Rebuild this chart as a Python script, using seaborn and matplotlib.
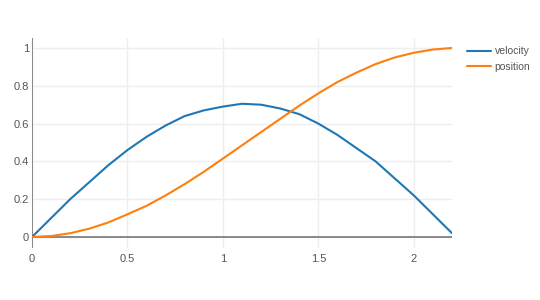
import matplotlib
matplotlib.use("Agg")
import matplotlib.pyplot as plt
import seaborn as sns
import pandas as pd

t = [0.0, 0.1, 0.2, 0.3, 0.4, 0.5, 0.6, 0.7, 0.8, 0.9, 1.0, 1.1,
     1.2, 1.3, 1.4, 1.5, 1.6, 1.7, 1.8, 1.9, 2.0, 2.1, 2.2]
velocity = [0.00, 0.10, 0.20, 0.29, 0.38, 0.46, 0.53, 0.59, 0.64, 0.67, 0.69, 0.705,
            0.70, 0.68, 0.65, 0.60, 0.54, 0.47, 0.40, 0.31, 0.22, 0.12, 0.02]
position = [0.000, 0.005, 0.020, 0.044, 0.077, 0.120, 0.165, 0.220, 0.280, 0.345, 0.415, 0.485,
            0.555, 0.625, 0.695, 0.760, 0.820, 0.870, 0.915, 0.950, 0.975, 0.992, 1.000]
series_names = ["velocity", "position"]
x_ticks = [0, 0.5, 1, 1.5, 2]
x_tick_labels = ["0", "0.5", "1", "1.5", "2"]
y_ticks = [0, 0.2, 0.4, 0.6, 0.8, 1]
y_tick_labels = ["0", "0.2", "0.4", "0.6", "0.8", "1"]

df = pd.concat([
    pd.DataFrame({"t": t, "value": velocity, "series": series_names[0]}),
    pd.DataFrame({"t": t, "value": position, "series": series_names[1]}),
])

sns.set_theme(style="white")
plt.rcParams["font.family"] = ["Liberation Sans", "DejaVu Sans"]

fig = plt.figure(figsize=(5.4, 3.0), dpi=100)
ax = fig.add_axes([32 / 540, 1 - 247.5 / 300, (452 - 32) / 540, (247.5 - 37.5) / 300])

sns.lineplot(data=df, x="t", y="value", hue="series",
             palette=["#1f77b4", "#ff7f0e"], linewidth=1.5, ax=ax, zorder=3)

ax.set_xlim(0, 2.2)
ax.set_ylim(-0.0556, 1.0556)
ax.set_xticks(x_ticks)
ax.set_xticklabels(x_tick_labels)
ax.set_yticks(y_ticks)
ax.set_yticklabels(y_tick_labels)
ax.set_xlabel("")
ax.set_ylabel("")
ax.grid(True, color="#eeeeee", linewidth=1)
ax.set_axisbelow(True)
for s in ax.spines.values():
    s.set_visible(False)
ax.axhline(0, color="#777777", linewidth=1.2, zorder=2)
ax.axvline(0, color="#777777", linewidth=1.2, zorder=2)
ax.tick_params(axis="both", length=0, labelsize=8, colors="#555555")
ax.tick_params(axis="x", pad=5)
ax.tick_params(axis="y", pad=2)

leg = ax.legend(loc="upper left", bbox_to_anchor=(463 / 540, 1 - 42 / 300),
                bbox_transform=fig.transFigure, frameon=False, fontsize=7.5,
                handlelength=2.3, handletextpad=0.35, labelspacing=0.55, borderaxespad=0)
for txt in leg.get_texts():
    txt.set_color("#555555")

fig.savefig("out.png", dpi=100)
